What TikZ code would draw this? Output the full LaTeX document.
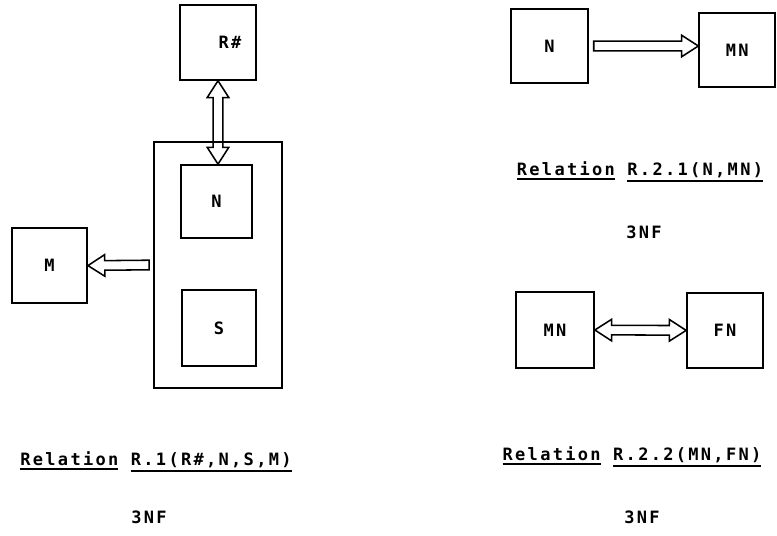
\documentclass[tikz,border=0pt]{standalone}
\usepackage{fontspec}
\newfontfamily\dotfont[LetterSpace=13.5]{DejaVu Sans Mono}
\newcommand{\ulword}[1]{\leavevmode\vtop{\hbox{#1}\kern1.5pt\hrule height 1.1pt}}
\usepackage{tikz}
\usetikzlibrary{calc}

\begin{document}
\begin{tikzpicture}[
  box/.style={draw, line width=1.2pt, inner sep=0pt, minimum width=1.9cm, minimum height=1.875cm,
    font=\dotfont\bfseries\fontsize{12.1pt}{14pt}\selectfont},
  txt/.style={inner sep=0pt, font=\dotfont\bfseries\fontsize{12.1pt}{14pt}\selectfont},
  fatarrow/.style={line width=1.1pt, to path={
    ($(\tikztostart)!0.12cm!90:(\tikztotarget)$)
    -- ($(\tikztotarget)!0.42cm!(\tikztostart)!0.12cm!-90:(\tikztostart)$)
    -- ($(\tikztotarget)!0.42cm!(\tikztostart)!0.27cm!-90:(\tikztostart)$)
    -- (\tikztotarget)
    -- ($(\tikztotarget)!0.42cm!(\tikztostart)!0.27cm!90:(\tikztostart)$)
    -- ($(\tikztotarget)!0.42cm!(\tikztostart)!0.12cm!90:(\tikztostart)$)
    -- ($(\tikztostart)!0.12cm!-90:(\tikztotarget)$) -- cycle}},
  fatdouble/.style={line width=1.1pt, to path={
    (\tikztostart)
    -- ($(\tikztostart)!0.42cm!(\tikztotarget)!0.27cm!90:(\tikztotarget)$)
    -- ($(\tikztostart)!0.42cm!(\tikztotarget)!0.12cm!90:(\tikztotarget)$)
    -- ($(\tikztotarget)!0.42cm!(\tikztostart)!0.12cm!-90:(\tikztostart)$)
    -- ($(\tikztotarget)!0.42cm!(\tikztostart)!0.27cm!-90:(\tikztostart)$)
    -- (\tikztotarget)
    -- ($(\tikztotarget)!0.42cm!(\tikztostart)!0.27cm!90:(\tikztostart)$)
    -- ($(\tikztotarget)!0.42cm!(\tikztostart)!0.12cm!90:(\tikztostart)$)
    -- ($(\tikztostart)!0.42cm!(\tikztotarget)!0.12cm!-90:(\tikztotarget)$)
    -- ($(\tikztostart)!0.42cm!(\tikztotarget)!0.27cm!-90:(\tikztotarget)$)
    -- cycle}}]
\useasboundingbox (0,0) rectangle (19.425,-13.4);
\node[box, label={[txt, xshift=0.3cm]center:R\#}] (rh) at (5.45,-1.06) {};
\node[box, minimum width=3.2cm, minimum height=6.15cm] (outer) at (5.45,-6.625) {};
\node[box, minimum width=1.78cm, minimum height=1.83cm] (ni) at (5.41,-5.04) {N};
\node[box, minimum width=1.85cm, minimum height=1.9cm] (s) at (5.475,-8.2) {S};
\node[box, minimum width=1.875cm] (m) at (1.24,-6.64) {M};
\draw[fatdouble] (rh.south) to (rh.south |- ni.north);
\draw[fatarrow] ([xshift=-0.1cm]outer.west) to (m.east);
\node[txt] (rel1) at (3.9,-11.55) {\ulword{Relation} \ulword{R.1(R\#,N,S,M)}};
\node[txt] (nf1) at (3.725,-12.925) {3NF};

\node[box, minimum width=1.925cm, minimum height=1.85cm] (n2) at (13.74,-1.15) {N};
\node[box, minimum height=1.85cm] (mn1) at (18.43,-1.25) {MN};
\draw[fatarrow] ([xshift=0.12cm]n2.east) to (n2.east -| mn1.west);
\node[txt] (rel21) at (16.0,-4.3) {\ulword{Relation} \ulword{R.2.1(N,MN)}};
\node[txt] (nf21) at (16.1,-5.8) {3NF};

\node[box, minimum width=1.95cm, minimum height=1.9cm] (mn2) at (13.875,-8.25) {MN};
\node[box] (fn) at (18.125,-8.26) {FN};
\draw[fatdouble] (mn2.east) to (fn.west);
\node[txt] (rel22) at (15.8,-11.425) {\ulword{Relation} \ulword{R.2.2(MN,FN)}};
\node[txt] (nf22) at (16.05,-12.925) {3NF};
\end{tikzpicture}
\end{document}
